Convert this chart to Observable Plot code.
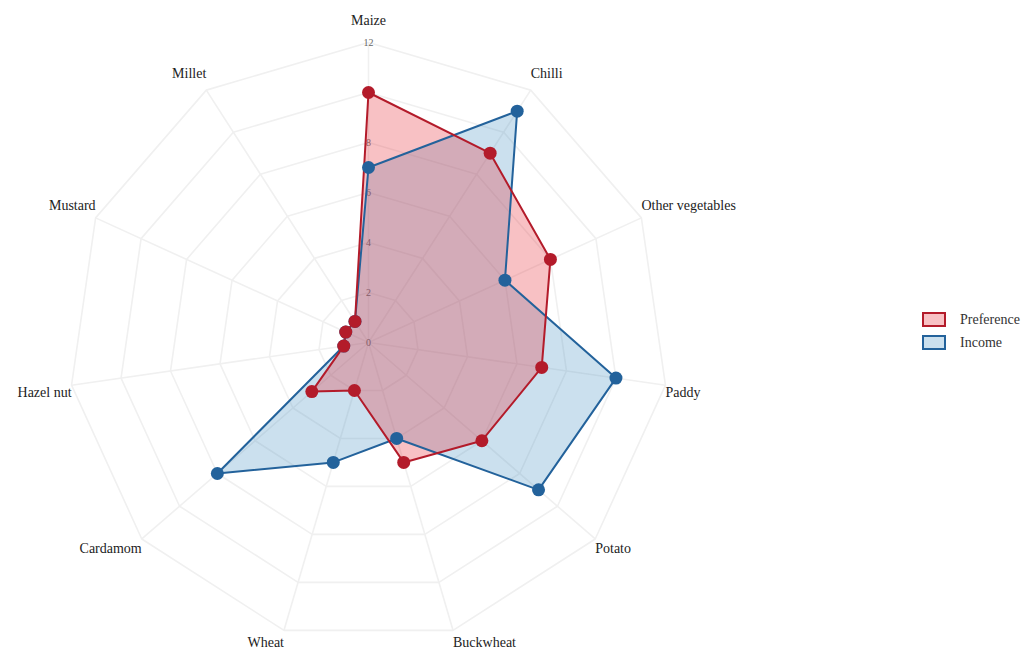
<!DOCTYPE html>
<html>
<head>
<meta charset="utf-8">
<script src="https://cdn.jsdelivr.net/npm/d3@7"></script>
<script src="https://cdn.jsdelivr.net/npm/@observablehq/plot@0.6"></script>
<style>
  html, body { margin: 0; padding: 0; background: #fff; }
  #wrap { position: relative; width: 1032px; height: 651px; font-family: "Liberation Serif", "DejaVu Serif", serif; }
  #legend { position: absolute; left: 922px; top: 308px; font-size: 14px; color: #333; }
  .item { display: flex; align-items: center; height: 23px; }
  .sw { width: 24px; height: 15px; border: 2px solid; margin-right: 14px; box-sizing: border-box; }
</style>
</head>
<body>
<div id="wrap"><div id="legend"></div></div>
<script>
const categories = ["Maize", "Chilli", "Other vegetables", "Paddy", "Potato", "Buckwheat", "Wheat", "Cardamom", "Hazel nut", "Mustard", "Millet"];
const preference = [10, 9, 8, 7, 6, 5, 2, 3, 1, 1, 1];
const income = [7, 11, 6, 10, 9, 4, 5, 8, 1, 1, 1];
const seriesNames = ["Preference", "Income"];
const tickValues = [0, 2, 4, 6, 8, 10, 12];
const gridLevels = [2, 4, 6, 8, 10, 12];
const rMax = 12;

const colors = {
  Preference: {stroke: "#b31b2a", fill: "#e8333c", opacity: 0.3},
  Income: {stroke: "#23629b", fill: "#3182bd", opacity: 0.25}
};

const n = categories.length;
const ang = i => (2 * Math.PI * i) / n;
const polar = (i, r) => ({x: r * Math.sin(ang(i)), y: r * Math.cos(ang(i))});

const seriesData = {Preference: preference, Income: income};
const points = [];
for (const s of seriesNames) {
  seriesData[s].forEach((v, i) => points.push({series: s, category: categories[i], value: v, ...polar(i, v)}));
}
const grid = [];
for (const lv of gridLevels) categories.forEach((c, i) => grid.push({level: lv, ...polar(i, lv)}));
const spokes = categories.map((c, i) => ({x1: 0, y1: 0, x2: polar(i, rMax).x, y2: polar(i, rMax).y}));
const ticks = tickValues.map(t => ({label: String(t), x: 0, y: t}));

// pixel scale: 25 px per unit, center at (368, 342)
const pxPerUnit = 25;
const labels = categories.map((c, i) => {
  const s = Math.sin(ang(i)), co = Math.cos(ang(i));
  const dyPx = co >= 0 ? -(10 + 6 * co + 6 * Math.pow(co, 8)) : 6 + 6 * Math.abs(co);
  const p = polar(i, rMax);
  return {label: c, x: p.x, y: p.y - dyPx / pxPerUnit, anchor: Math.abs(s) < 0.05 ? "middle" : s > 0 ? "start" : "end"};
});

const W = 1032, H = 651, cx = 368, cy = 342;
const font = "'Liberation Serif', 'DejaVu Serif', serif";

const marks = [
  Plot.line(grid, {x: "x", y: "y", z: "level", curve: "linear-closed", stroke: "#f0f0f0", strokeWidth: 1.6}),
  Plot.link(spokes, {x1: "x1", y1: "y1", x2: "x2", y2: "y2", stroke: "#f0f0f0", strokeWidth: 1.6}),
  Plot.text(ticks, {x: "x", y: "y", text: "label", fill: "#666", fontSize: 10, fontFamily: font}),
];
for (const s of ["Income", "Preference"]) {
  marks.push(Plot.line(points.filter(d => d.series === s), {x: "x", y: "y", curve: "linear-closed", fill: colors[s].fill, fillOpacity: colors[s].opacity, stroke: "none"}));
}
for (const s of ["Income", "Preference"]) {
  marks.push(Plot.line(points.filter(d => d.series === s), {x: "x", y: "y", curve: "linear-closed", stroke: colors[s].stroke, strokeWidth: 2}));
}
for (const s of ["Income", "Preference"]) {
  marks.push(Plot.dot(points.filter(d => d.series === s), {x: "x", y: "y", r: 6.5, fill: colors[s].stroke, stroke: "none"}));
}
for (const a of ["start", "middle", "end"]) {
  marks.push(Plot.text(labels.filter(d => d.anchor === a), {x: "x", y: "y", text: "label", textAnchor: a, fill: "#222", fontSize: 14, fontFamily: font}));
}

const chart = Plot.plot({
  width: W, height: H,
  marginLeft: 0, marginRight: 0, marginTop: 0, marginBottom: 0,
  x: {domain: [-cx / pxPerUnit, (W - cx) / pxPerUnit], range: [0, W], axis: null},
  y: {domain: [-(H - cy) / pxPerUnit, cy / pxPerUnit], range: [H, 0], axis: null},
  style: {background: "#fff", fontFamily: font},
  marks
});
const wrap = document.getElementById("wrap");
wrap.insertBefore(chart, wrap.firstChild);

const legend = document.getElementById("legend");
for (const s of seriesNames) {
  const item = document.createElement("div");
  item.className = "item";
  const sw = document.createElement("div");
  sw.className = "sw";
  sw.style.borderColor = colors[s].stroke;
  const c = d3.color(colors[s].fill); c.opacity = colors[s].opacity;
  sw.style.background = c.toString();
  const t = document.createElement("span");
  t.textContent = s;
  item.appendChild(sw);
  item.appendChild(t);
  legend.appendChild(item);
}
</script>
</body>
</html>
